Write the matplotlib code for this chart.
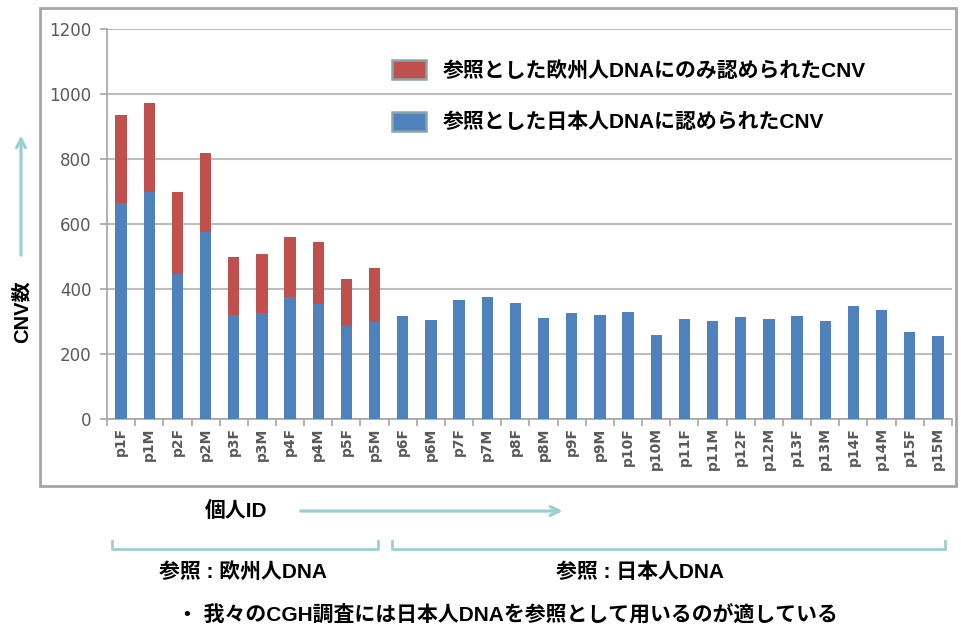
import matplotlib.pyplot as plt
from matplotlib.patches import Patch, Rectangle
from matplotlib.lines import Line2D

plt.rcParams['font.family'] = ['Liberation Sans', 'Noto Sans CJK JP', 'DejaVu Sans']

samples = ['p1F', 'p1M', 'p2F', 'p2M', 'p3F', 'p3M', 'p4F', 'p4M', 'p5F', 'p5M',
           'p6F', 'p6M', 'p7F', 'p7M', 'p8F', 'p8M', 'p9F', 'p9M', 'p10F', 'p10M',
           'p11F', 'p11M', 'p12F', 'p12M', 'p13F', 'p13M', 'p14F', 'p14M', 'p15F', 'p15M']
# CNVs also found with the Japanese reference
japanese_ref = [664, 699, 446, 574, 320, 327, 376, 355, 286, 297,
                317, 304, 366, 374, 358, 310, 327, 321, 330, 260,
                308, 301, 314, 309, 317, 301, 347, 335, 268, 256]
# totals seen with the European reference (only the first 10 samples)
european_total = [935, 971, 699, 817, 497, 508, 560, 546, 432, 464]
european_only = [t - j for t, j in zip(european_total, japanese_ref)]
y_ticks = [0, 200, 400, 600, 800, 1000, 1200]

red = '#C0504D'
blue = '#4F81BD'
teal = '#9CCFD3'
axis_grey = '#A6A6A6'
label_grey = '#595959'

fig = plt.figure(figsize=(9.62, 6.28), dpi=100)
W, H = 962, 628

def fx(px):
    return px / W

def fy(py):
    return 1 - py / H

# chart frame
fig.patches.append(Rectangle((fx(40), fy(486)), fx(916), 478 / H, transform=fig.transFigure,
                             fill=False, edgecolor=axis_grey, lw=2))

ax = fig.add_axes([fx(107), fy(419), fx(952 - 107), 390 / H])
x = list(range(len(samples)))
ax.bar(x, japanese_ref, width=0.4, color=blue, zorder=3)
ax.bar(x[:len(european_only)], european_only, width=0.4, bottom=japanese_ref[:len(european_only)],
       color=red, zorder=3)

ax.set_xlim(-0.5, len(samples) - 0.5)
ax.set_ylim(0, 1200)
ax.set_yticks(y_ticks)
ax.set_yticklabels([str(v) for v in y_ticks], family='DejaVu Sans', fontsize=12,
                   color=label_grey)
ax.yaxis.grid(True, color='#BDBDBD', lw=1.5, zorder=0)
ax.set_axisbelow(True)
for s in ['top', 'right']:
    ax.spines[s].set_visible(False)
for s in ['left', 'bottom']:
    ax.spines[s].set_color(axis_grey)
    ax.spines[s].set_linewidth(1.2)

# tick marks sit between the bars, labels under each bar
ax.set_xticks([i + 0.5 for i in range(-1, len(samples))])
ax.set_xticklabels([])
ax.set_xticks(x, minor=True)
ax.set_xticklabels(samples, minor=True, rotation=90, fontsize=10, color=label_grey,
                   family='DejaVu Sans', fontweight='bold')
ax.tick_params(axis='x', which='major', length=5, color=axis_grey, width=1.2)
ax.tick_params(axis='x', which='minor', length=0, pad=6)
ax.tick_params(axis='y', length=5, color=axis_grey, width=1.2, pad=6)

handles = [Patch(facecolor=red, edgecolor='#88A6A9', lw=1.8),
           Patch(facecolor=blue, edgecolor='#88A6A9', lw=1.8)]
labels = ['参照とした欧州人DNAにのみ認められたCNV', '参照とした日本人DNAに認められたCNV']
fig.legend(handles, labels, loc='upper left', bbox_to_anchor=(fx(384), fy(52)),
           frameon=False, handlelength=1.6, handleheight=1.0, handletextpad=0.8,
           labelspacing=1.5, borderaxespad=0, prop={'weight': 'bold', 'size': 15})

# y axis label with arrow
fig.text(fx(22), fy(312), 'CNV数', rotation=90, ha='center', va='center',
         fontsize=14.5, fontweight='bold')
fig.add_artist(plt.annotate('', xy=(fx(21), fy(133)), xytext=(fx(21), fy(258)),
                            xycoords='figure fraction',
                            arrowprops=dict(arrowstyle='->', color=teal, lw=2, mutation_scale=16)))

# x axis label with arrow
fig.text(fx(236), fy(511), '個人ID', ha='center', va='center', fontsize=15, fontweight='bold')
fig.add_artist(plt.annotate('', xy=(fx(565), fy(511)), xytext=(fx(298), fy(511)),
                            xycoords='figure fraction',
                            arrowprops=dict(arrowstyle='->', color=teal, lw=2, mutation_scale=16)))

# group brackets
for x0, x1 in [(112, 378), (392, 945)]:
    fig.add_artist(Line2D([fx(x0), fx(x0), fx(x1), fx(x1)], [fy(541), fy(549), fy(549), fy(541)],
                          transform=fig.transFigure, color=teal, lw=2))
fig.text(fx(243), fy(572), '参照 : 欧州人DNA', ha='center', va='center', fontsize=15, fontweight='bold')
fig.text(fx(640), fy(572), '参照 : 日本人DNA', ha='center', va='center', fontsize=15, fontweight='bold')

fig.text(fx(507), fy(614), '・ 我々のCGH調査には日本人DNAを参照として用いるのが適している',
         ha='center', va='center', fontsize=15, fontweight='bold')

fig.savefig('out.png', dpi=100)
